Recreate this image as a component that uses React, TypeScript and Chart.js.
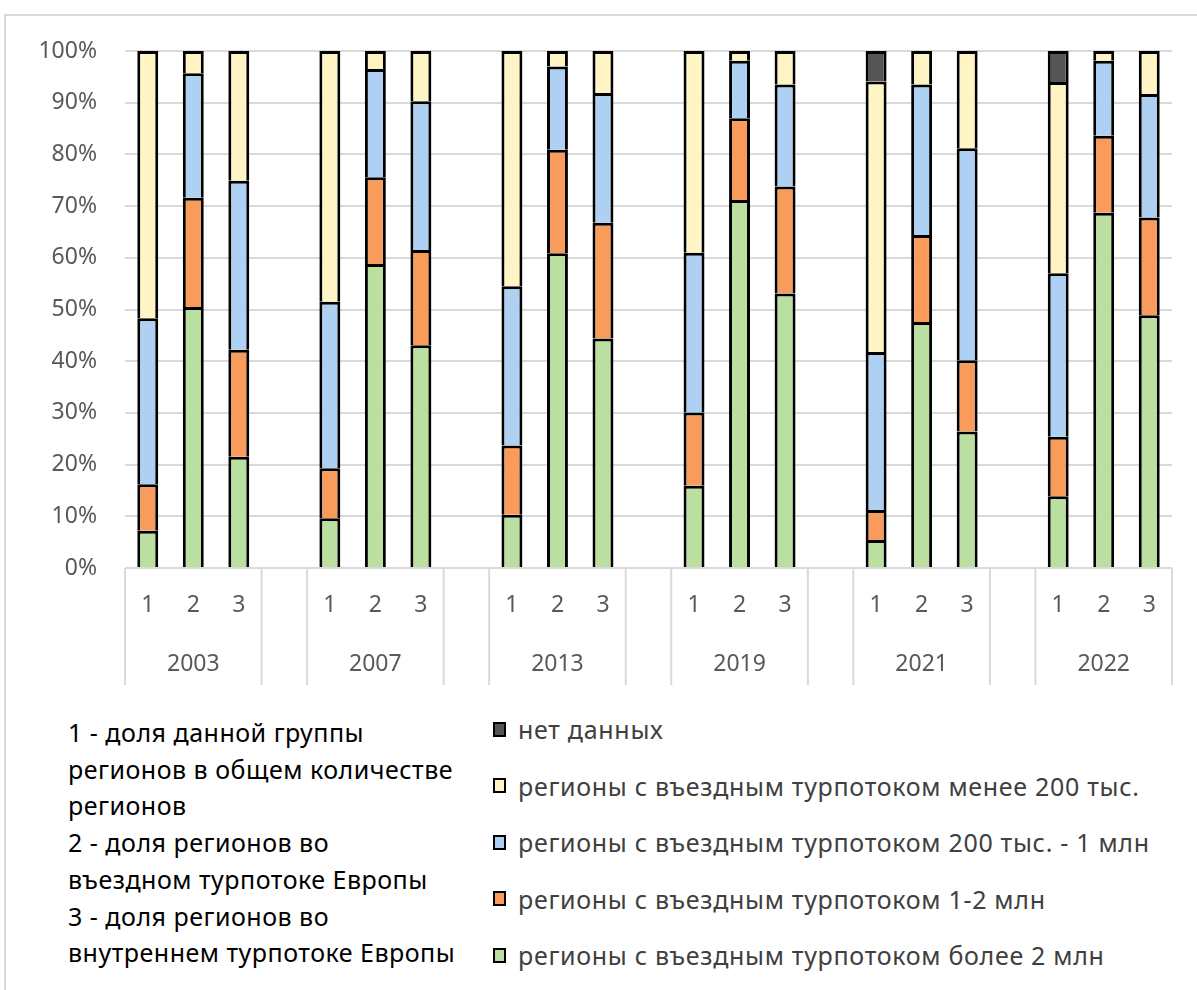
import React, { useEffect, useRef } from "react";
import { Chart, registerables } from "chart.js";

Chart.register(...registerables);

const categories = ["1", "2", "3", "", "1", "2", "3", "", "1", "2", "3", "", "1", "2", "3", "", "1", "2", "3", "", "1", "2", "3"];
const years = ["2003", "2007", "2013", "2019", "2021", "2022"];
const yTicks = [0, 10, 20, 30, 40, 50, 60, 70, 80, 90, 100];

const seriesNames = [
  "регионы с въездным турпотоком более 2 млн",
  "регионы с въездным турпотоком 1-2 млн",
  "регионы с въездным турпотоком 200 тыс. - 1 млн",
  "регионы с въездным турпотоком менее 200 тыс.",
  "нет данных",
];

const over2m = [7.2, 50.5, 21.5, null, 9.6, 58.8, 43.1, null, 10.3, 60.9, 44.4, null, 15.9, 71.2, 53.1, null, 5.4, 47.6, 26.4, null, 13.9, 68.7, 48.9];
const from1to2m = [9.0, 21.1, 20.7, null, 9.7, 16.8, 18.4, null, 13.4, 20.0, 22.4, null, 14.2, 15.8, 20.7, null, 5.8, 16.8, 13.8, null, 11.5, 14.9, 18.9];
const from200kto1m = [32.1, 24.1, 32.7, null, 32.2, 20.9, 28.8, null, 30.8, 16.1, 25.1, null, 30.9, 11.1, 19.7, null, 30.6, 29.1, 41.0, null, 31.6, 14.5, 23.9];
const under200k = [51.7, 4.3, 25.1, null, 48.5, 3.5, 9.7, null, 45.5, 3.0, 8.1, null, 39.0, 1.9, 6.5, null, 52.3, 6.5, 18.8, null, 37.0, 1.9, 8.3];
const noData = [null, null, null, null, null, null, null, null, null, null, null, null, null, null, null, null, 5.9, null, null, null, 6.0, null, null];

const seriesColors = ["#BBDFA0", "#F89B5B", "#AED0F2", "#FFF4C4", "#555555"];

const noteLines = [
  "1 - доля данной группы",
  "регионов в общем количестве",
  "регионов",
  "2 - доля регионов во",
  "въездном турпотоке Европы",
  "3 - доля регионов во",
  "внутреннем турпотоке Европы",
];

const FONT = "'Noto Sans', 'Open Sans', sans-serif";
const GRID = "#d9d9d9";
const TEXT = "#595959";

const groupAxisPlugin = {
  id: "groupAxis",
  afterDraw(chart: any) {
    const ctx = chart.ctx;
    const x = chart.scales.x;
    const area = chart.chartArea;
    const n = categories.length;
    const step = x.getPixelForValue(1) - x.getPixelForValue(0);
    const bottom = area.bottom + 117;
    const bounds: number[] = [x.getPixelForValue(0) - step / 2];
    for (let i = 0; i < n - 1; i++) {
      if (categories[i] === "3" || categories[i] === "") {
        bounds.push((x.getPixelForValue(i) + x.getPixelForValue(i + 1)) / 2);
      }
    }
    bounds.push(x.getPixelForValue(n - 1) + step / 2);
    ctx.save();
    ctx.strokeStyle = GRID;
    ctx.lineWidth = 2;
    bounds.forEach((b) => {
      ctx.beginPath();
      ctx.moveTo(b, area.bottom);
      ctx.lineTo(b, bottom);
      ctx.stroke();
    });
    ctx.fillStyle = TEXT;
    ctx.font = `23px ${FONT}`;
    ctx.textAlign = "center";
    ctx.textBaseline = "middle";
    let g = 0;
    for (let i = 0; i < n; i++) {
      if (categories[i] === "2") {
        ctx.fillText(years[g], x.getPixelForValue(i), area.bottom + 96);
        g++;
      }
    }
    ctx.restore();
  },
};

function ChartCanvas() {
  const ref = useRef<HTMLCanvasElement>(null);
  useEffect(() => {
    if (!ref.current) return;
    const data = [over2m, from1to2m, from200kto1m, under200k, noData];
    const chart = new Chart(ref.current, {
      type: "bar",
      data: {
        labels: categories,
        datasets: data.map((d, i) => ({
          label: seriesNames[i],
          data: d as any,
          backgroundColor: seriesColors[i],
          borderColor: "#000000",
          borderWidth: { top: 3, left: 3, right: 3, bottom: 0 } as any,
          borderSkipped: false as any,
          barPercentage: 0.46,
          categoryPercentage: 1,
        })),
      },
      options: {
        responsive: false,
        animation: false,
        devicePixelRatio: 1,
        layout: { padding: { left: 0, right: 25, top: 51, bottom: 0 } },
        plugins: { legend: { display: false }, tooltip: { enabled: false } },
        scales: {
          x: {
            stacked: true,
            grid: { display: false, drawTicks: false },
            border: { display: false },
            ticks: { color: TEXT, font: { family: FONT, size: 23 }, padding: 24, maxRotation: 0, autoSkip: false },
            afterFit(scale: any) {
              scale.height = 132;
            },
          },
          y: {
            stacked: true,
            min: 0,
            max: 100,
            afterBuildTicks(scale: any) {
              scale.ticks = yTicks.map((v) => ({ value: v }));
            },
            grid: { color: GRID, lineWidth: 2, drawTicks: false },
            border: { display: false },
            ticks: {
              color: TEXT,
              font: { family: FONT, size: 23 },
              padding: 28,
              callback: (v: any) => `${v}%`,
            },
            afterFit(scale: any) {
              scale.width = 125;
            },
          },
        },
      },
      plugins: [groupAxisPlugin],
    });
    return () => chart.destroy();
  }, []);
  return <canvas ref={ref} width={1197} height={700} style={{ position: "absolute", left: 0, top: 0, width: 1197, height: 700 }} />;
}

export default function App() {
  const legendOrder = [4, 3, 2, 1, 0];
  return (
    <div style={{ position: "absolute", left: 0, top: 0, width: 1197, height: 990, overflow: "hidden", background: "#fff", fontFamily: FONT }}>
      <div style={{ position: "absolute", left: 4, top: 14, width: 1200, height: 1000, border: `2px solid ${GRID}`, boxSizing: "border-box" }} />
      <ChartCanvas />
      <div style={{ position: "absolute", left: 68, top: 714, fontSize: 25, letterSpacing: "0.5px", lineHeight: "36.7px", color: "#000", whiteSpace: "nowrap" }}>
        {noteLines.map((l, i) => (
          <div key={i}>{l}</div>
        ))}
      </div>
      {legendOrder.map((s, k) => (
        <div key={s} style={{ position: "absolute", left: 493, top: 729 + k * 56.5 - 18, height: 36, display: "flex", alignItems: "center", whiteSpace: "nowrap" }}>
          <span style={{ display: "inline-block", width: 13, height: 15, boxSizing: "border-box", border: "2.5px solid #000", background: seriesColors[s], marginRight: 12 }} />
          <span style={{ fontSize: 25, letterSpacing: "0.7px", color: "#404040" }}>{seriesNames[s]}</span>
        </div>
      ))}
    </div>
  );
}
